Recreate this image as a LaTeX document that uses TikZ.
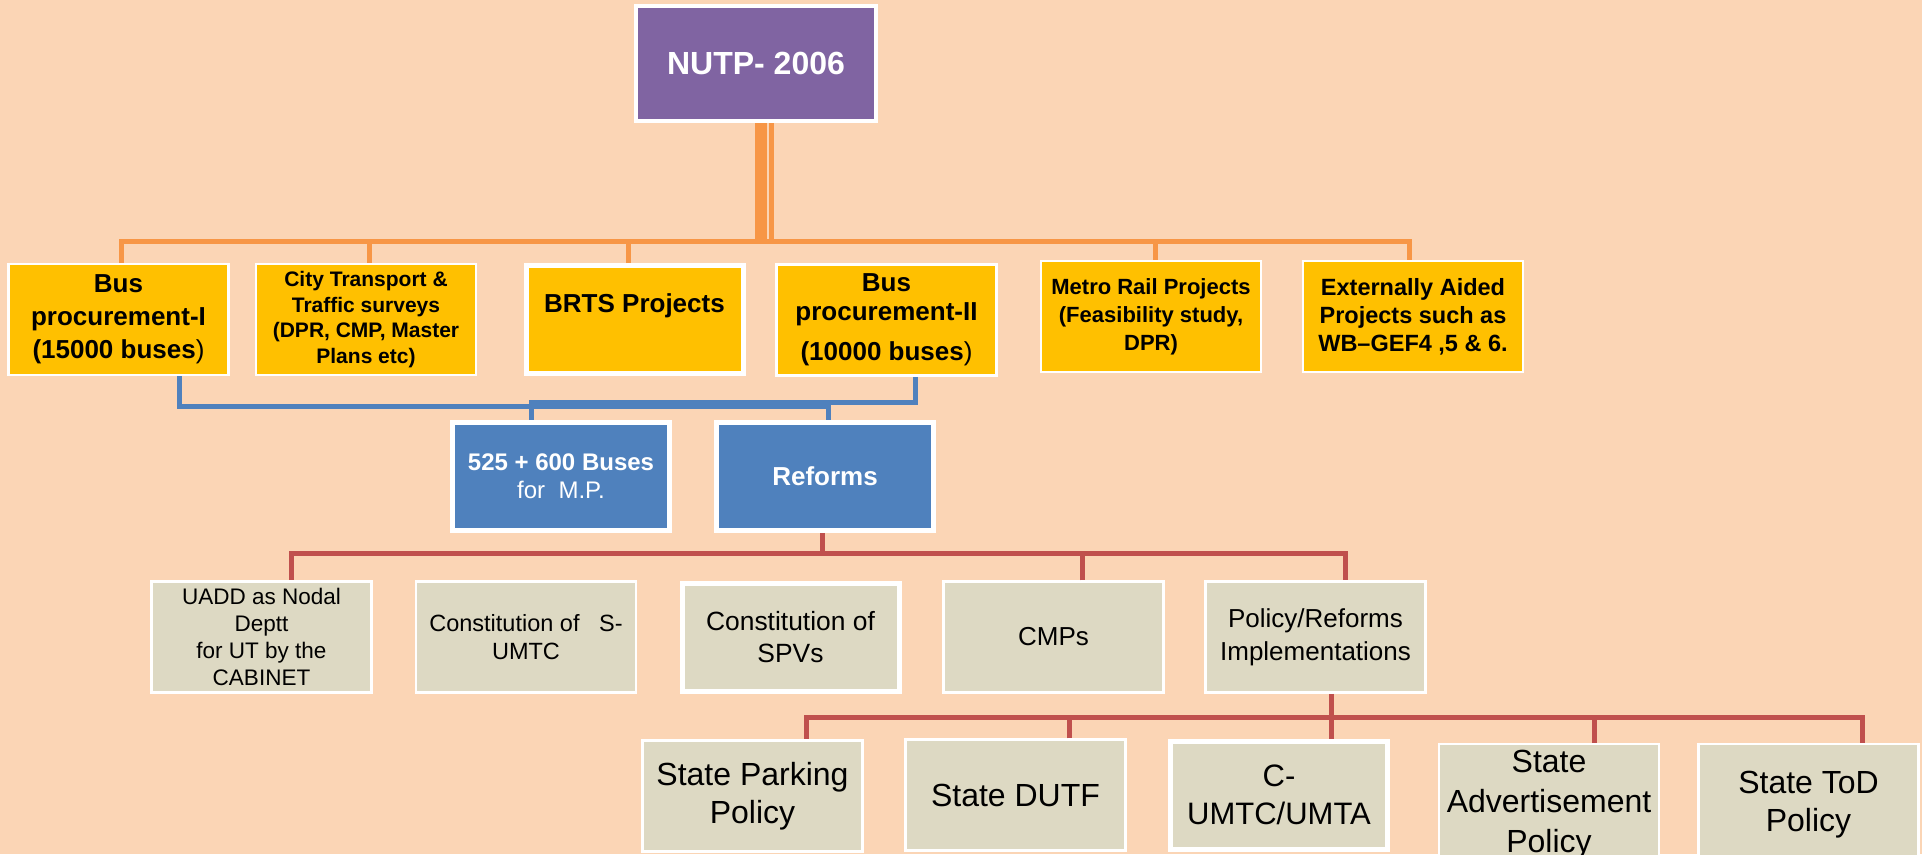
\documentclass[tikz,border=0pt]{standalone}
\usepackage{fontspec}
\setmainfont{Liberation Sans}
\definecolor{peach}{HTML}{FBD5B5}
\definecolor{nutppurple}{HTML}{8064A2}
\definecolor{boxyellow}{HTML}{FFC000}
\definecolor{boxblue}{HTML}{4F81BD}
\definecolor{boxbeige}{HTML}{DDD9C3}
\definecolor{lineorange}{HTML}{F79646}
\definecolor{linered}{HTML}{C0504D}
\newcommand{\fsz}[2]{\fontsize{#1}{#2}\selectfont}

\begin{document}
\begin{tikzpicture}[x=1pt,y=-1pt]
\tikzstyle{every node}=[rectangle, draw=white, line width=2.5pt, minimum width=220pt, minimum height=111pt, inner sep=2pt, align=center]
\tikzstyle{topbox}=[fill=nutppurple, text=white, line width=4pt, minimum width=240pt, minimum height=115pt]
\tikzstyle{ybox}=[fill=boxyellow]
\tikzstyle{bbox}=[fill=boxblue, text=white, line width=5pt, minimum width=217pt, minimum height=108pt]
\tikzstyle{gbox}=[fill=boxbeige]
\tikzstyle{wideborder}=[line width=5pt, minimum width=217pt, minimum height=108pt]
\tikzstyle{oline}=[draw=lineorange, line width=5pt]
\tikzstyle{bline}=[draw=boxblue, line width=5pt]
\tikzstyle{rline}=[draw=linered, line width=5pt]
\useasboundingbox (0,0) rectangle (1927,854);
\fill[white] (0,0) rectangle (1927,854);
\fill[peach] (0,0) rectangle (1922,854);
\clip (0,0) rectangle (1927,854);

% top
\draw (756,63.5) node (nutp) [topbox, font=\fsz{32}{38}\bfseries] {NUTP- 2006};

% first row
\draw (118.5,319.5) node (bp1) [ybox, font=\fsz{26}{33}\bfseries] {Bus\\procurement-I\\(15000 buses\textmd{)}};
\draw (366,319.5) node (cts) [ybox, font=\fsz{21}{25.7}\bfseries] {City Transport \&\\Traffic surveys\\(DPR, CMP, Master\\Plans etc)};
\draw (634.5,319.5) node (brts) [ybox, wideborder, font=\fsz{26}{32}\bfseries] {BRTS Projects\\\mbox{}};
\draw (886.5,320) node (bp2) [ybox, font=\fsz{26}{29}\bfseries] {Bus\\procurement-II\\[11pt](10000 buses\textmd{)}};
\draw (1151,316.5) node (metro) [ybox, font=\fsz{22}{28}\bfseries] {Metro Rail Projects\\(Feasibility study,\\DPR)};
\draw (1413,316.5) node (ext) [ybox, font=\fsz{23.5}{28}\bfseries] {Externally Aided\\Projects such as\\WB–GEF4 ,5 \& 6.};

% second row
\draw (561,476.5) node (buses) [bbox, font=\fsz{24}{28}] {\textbf{525 + 600 Buses}\\for\ \ M.P.};
\draw (825,476.5) node (reforms) [bbox, font=\fsz{26}{32}\bfseries] {Reforms};

% third row
\draw (261.5,637) node (uadd) [gbox, font=\fsz{22.5}{27}] {UADD as Nodal\\Deptt\\for UT by the\\CABINET};
\draw (526,637) node (sumtc) [gbox, font=\fsz{23.5}{28}] {Constitution of \ \ S-\\UMTC};
\draw (790.5,637) node (spvs) [gbox, wideborder, font=\fsz{26.4}{32}] {Constitution of\\SPVs};
\draw (1053.5,637) node (cmps) [gbox, font=\fsz{26}{32}] {CMPs};
\draw (1315.5,637) node (policy) [gbox, font=\fsz{26}{33}] {Policy/Reforms\\Implementations};

% fourth row
\draw (752.5,796) node (parking) [gbox, font=\fsz{32}{38}] {State Parking\\Policy};
\draw (1015.5,795) node (dutf) [gbox, font=\fsz{32}{38}] {State DUTF};
\draw (1279,795) node (cumtc) [gbox, wideborder, font=\fsz{31}{38}] {C-\\UMTC/UMTA};
\draw (1549,805) node (advert) [gbox, minimum height=122pt, font=\fsz{32}{40}] {State\\Advertisement\\Policy};
\draw (1808.5,805) node (tod) [gbox, minimum height=122pt, font=\fsz{32}{38}] {State ToD\\Policy};

% orange tree
\coordinate (trunk) at (760.5,241);
\coordinate (trunkb) at (771.5,241);
\coordinate (ol) at (121,241);
\coordinate (or) at (1409,241);
\draw[oline, line width=12pt] (nutp.south -| trunk) -- (trunk);
\draw[oline, line width=4.5pt] (nutp.south -| trunkb) -- (trunkb);
\draw[oline, line cap=rect] (ol) -- (or);
\draw[oline] (ol) -- (ol |- bp1.north);
\draw[oline] ([xshift=3]cts.north) -- ([xshift=3]cts.north |- ol);
\draw[oline] ([xshift=-6.5]brts.north) -- ([xshift=-6.5]brts.north |- ol);
\draw[oline] ([xshift=4]metro.north) -- ([xshift=4]metro.north |- ol);
\draw[oline] (or) -- (or |- ext.north);

% blue links
\draw[bline] ([xshift=60.5]bp1.south) -- ++(0,30) -| ([xshift=3]reforms.north);
\draw[bline] ([xshift=28.5]bp2.south) -- ++(0,25.5) -| ([xshift=-30]buses.north);

% reforms tree
\coordinate (rl) at (291,553);
\coordinate (rr) at (1345,553);
\draw[rline] ([xshift=-3]reforms.south) -- ([xshift=-3]reforms.south |- rl);
\draw[rline, line cap=rect] (rl) -- (rr);
\draw[rline] (rl) -- (rl |- uadd.north);
\draw[rline] ([xshift=28.5]cmps.north) -- ([xshift=28.5]cmps.north |- rl);
\draw[rline] (rr) -- (rr |- policy.north);

% policy tree
\coordinate (pl) at (806,717.5);
\coordinate (pr) at (1862,717.5);
\draw[rline] ([xshift=15.5]policy.south) -- ([xshift=52]cumtc.north);
\draw[rline, line cap=rect] (pl) -- (pr);
\draw[rline] (pl) -- (pl |- parking.north);
\draw[rline] ([xshift=53.5]dutf.north) -- ([xshift=53.5]dutf.north |- pl);
\draw[rline] ([xshift=45]advert.north) -- ([xshift=45]advert.north |- pl);
\draw[rline] (pr) -- (pr |- tod.north);
\end{tikzpicture}
\end{document}
